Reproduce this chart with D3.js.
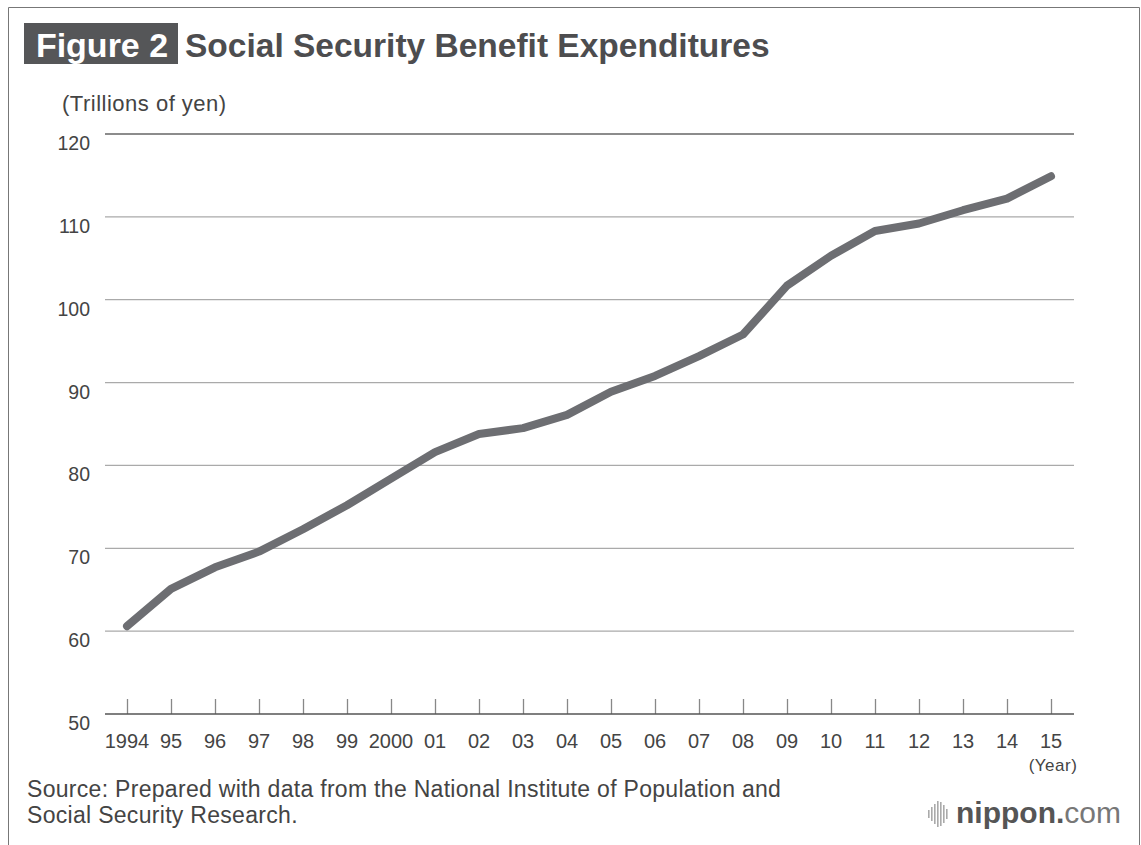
<!DOCTYPE html>
<html><head><meta charset="utf-8">
<script src="https://cdn.jsdelivr.net/npm/d3@7"></script>
<style>body{margin:0;background:#fff}svg{display:block;font-family:"Liberation Sans",Arial,Helvetica,sans-serif}</style>
</head><body>
<script>
const years = ["1994","95","96","97","98","99","2000","01","02","03","04","05","06","07","08","09","10","11","12","13","14","15"];
const values = [60.6,65.1,67.7,69.6,72.3,75.2,78.4,81.6,83.8,84.5,86.1,88.9,90.8,93.2,95.8,101.7,105.3,108.3,109.2,110.8,112.2,114.9];
const yTicks = [50,60,70,80,90,100,110,120];

const W = 1141, H = 845;
const svg = d3.select("body").append("svg").attr("width", W).attr("height", H);

// frame
svg.append("path").attr("d", `M8.5,${H} V7.5 H1139.5 V${H}`).attr("fill","none").attr("stroke","#777").attr("stroke-width",1);

// title
svg.append("rect").attr("x",24).attr("y",23).attr("width",154).attr("height",41).attr("fill","#555658");
svg.append("text").attr("x",102).attr("y",57).attr("text-anchor","middle").attr("fill","#fff")
  .attr("font-size",34).attr("font-weight","bold").text("Figure 2");
svg.append("text").attr("x",185).attr("y",57).attr("fill","#4d4d4f")
  .attr("font-size",33.5).attr("font-weight","bold").text("Social Security Benefit Expenditures");

svg.append("text").attr("x",62).attr("y",111).attr("fill","#444").attr("font-size",22).attr("letter-spacing",0.5).text("(Trillions of yen)");

const x = d3.scalePoint().domain(years).range([127,1051]);
const y = d3.scaleLinear().domain([50,120]).range([714,134]);

// gridlines
const grid = svg.append("g");
grid.selectAll("line").data(yTicks.filter(d=>d>50)).join("line")
  .attr("x1",105).attr("x2",1074).attr("y1",d=>y(d)).attr("y2",d=>y(d))
  .attr("stroke", d=> d===120 ? "#666" : "#aaa").attr("stroke-width",1.3);

// y labels
svg.append("g").selectAll("text").data(yTicks).join("text")
  .attr("x",90).attr("y",d=>y(d)+16).attr("text-anchor","end")
  .attr("fill","#444").attr("font-size",19.5).text(d=>d);

// x axis
const xAxis = d3.axisTop(x).tickSize(15).tickFormat("");
const gx = svg.append("g").attr("transform","translate(0,714)").call(xAxis);
gx.select(".domain").remove();
gx.selectAll(".tick line").attr("stroke","#888").attr("stroke-width",1.3);
svg.append("line").attr("x1",105).attr("x2",1074).attr("y1",714).attr("y2",714).attr("stroke","#555").attr("stroke-width",1.5);

svg.append("g").selectAll("text").data(years).join("text")
  .attr("x",d=>x(d)).attr("y",748).attr("text-anchor","middle")
  .attr("fill","#444").attr("font-size",20).text(d=>d);
svg.append("text").attr("x",1053).attr("y",771).attr("text-anchor","middle").attr("fill","#444").attr("font-size",17).attr("letter-spacing",0.5).text("(Year)");

// line
const line = d3.line().x((d,i)=>x(years[i])).y(d=>y(d));
svg.append("path").datum(values).attr("d",line).attr("fill","none")
  .attr("stroke","#6d6e72").attr("stroke-width",8).attr("stroke-linecap","round").attr("stroke-linejoin","round");

// source
svg.append("text").attr("x",27).attr("y",797).attr("fill","#444").attr("font-size",23).attr("letter-spacing",0.3).text("Source: Prepared with data from the National Institute of Population and");
svg.append("text").attr("x",27).attr("y",823).attr("fill","#444").attr("font-size",23).attr("letter-spacing",0.3).text("Social Security Research.");

// logo
const logo = svg.append("g");
const bars = [[928,8],[931,14],[934,20],[937,26],[940,24],[943,18],[946,10]];
logo.selectAll("rect").data(bars).join("rect")
  .attr("x",d=>d[0]).attr("y",d=>814-d[1]/2).attr("width",1.6).attr("height",d=>d[1]).attr("fill","#aaa");
const lt = logo.append("text").attr("x",956).attr("y",823).attr("font-size",30).attr("fill","#555");
lt.append("tspan").attr("font-weight","bold").text("nippon.");
lt.append("tspan").attr("fill","#777").text("com");
</script>
</body></html>
